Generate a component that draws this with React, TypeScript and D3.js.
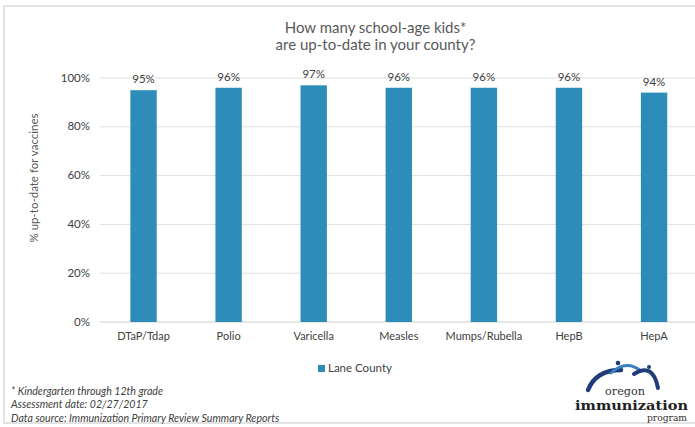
import React from "react";
import * as d3 from "d3";

const categories = ["DTaP/Tdap", "Polio", "Varicella", "Measles", "Mumps/Rubella", "HepB", "HepA"];
const values = [95, 96, 97, 96, 96, 96, 94];
const yTicks = [0, 20, 40, 60, 80, 100];
const seriesName = "Lane County";
const titleLines = ["How many school-age kids*", "are up-to-date in your county?"];
const yTitle = "% up-to-date for vaccines";
const footnotes = [
  "* Kindergarten through 12th grade",
  "Assessment date: 02/27/2017",
  "Data source: Immunization Primary Review Summary Reports",
];

const W = 695;
const H = 427;
const BAR = "#2E8DB8";
const NAVY = "#1f3c78";
const FONT = "Lato, 'Open Sans', sans-serif";
const SERIF = "'DejaVu Serif', 'Liberation Serif', serif";

export default function App() {
  const x = d3.scaleBand<string>().domain(categories).range([101, 696.6]).paddingInner(0.69).paddingOuter(0.345);
  const y = d3.scaleLinear().domain([0, 100]).range([322, 78]);

  return (
    <svg width={W} height={H} style={{ position: "absolute", left: 0, top: 0 }} fontFamily={FONT}>
      <rect x={0} y={0} width={W} height={H} fill="#fff" />
      <rect x={4} y={6} width={W + 10} height={417} fill="none" stroke="#e3e3e3" strokeWidth={2} />
      {titleLines.map((t, i) => (
        <text key={i} x={375.5} y={33 + i * 17} textAnchor="middle" fontSize={15} fill="#595959">
          {t}
        </text>
      ))}
      {yTicks.map((t) => (
        <g key={t}>
          <line x1={100} x2={W} y1={y(t)} y2={y(t)} stroke={t === 0 ? "#d0d0d0" : "#e0e0e0"} strokeWidth={1} />
          <text x={90} y={y(t) + 3.5} textAnchor="end" fontSize={11.5} fill="#404040">
            {t}%
          </text>
        </g>
      ))}
      <text transform={`translate(38,178) rotate(-90)`} textAnchor="middle" fontSize={11.5} fill="#595959">
        {yTitle}
      </text>
      {categories.map((c, i) => (
        <g key={c}>
          <rect x={x(c)} y={y(values[i])} width={x.bandwidth()} height={y(0) - y(values[i])} fill={BAR} />
          <text
            x={(x(c) as number) + x.bandwidth() / 2}
            y={y(values[i]) - 7}
            textAnchor="middle"
            fontSize={11.5}
            fill="#404040"
          >
            {values[i]}%
          </text>
          <text x={(x(c) as number) + x.bandwidth() / 2} y={340} textAnchor="middle" fontSize={11} fill="#404040">
            {c}
          </text>
        </g>
      ))}
      <rect x={318} y={365} width={7} height={7} fill={BAR} />
      <text x={328} y={372} fontSize={11.5} fill="#404040">
        {seriesName}
      </text>
      {footnotes.map((f, i) => (
        <text key={i} x={11} y={395 + i * 13.3} fontSize={10.6} fontStyle="italic" fill="#404040">
          {f}
        </text>
      ))}
      <g>
        <path d="M588,390 Q596,370 621,370" fill="none" stroke={NAVY} strokeWidth={4.5} strokeLinecap="round" />
        <path d="M611,373 Q626,359 641,371" fill="none" stroke="#3a7fc1" strokeWidth={3} strokeLinecap="round" />
        <path d="M634,374 Q653,362 658,388" fill="none" stroke={NAVY} strokeWidth={4} strokeLinecap="round" />
        <circle cx={618} cy={363} r={2.3} fill={NAVY} />
        <circle cx={649} cy={367} r={2} fill={NAVY} />
        <text x={625} y={395} textAnchor="middle" fontFamily={SERIF} fontSize={11.5} fill="#333" textLength={40} lengthAdjust="spacingAndGlyphs">
          oregon
        </text>
        <text
          x={631.5}
          y={410}
          textAnchor="middle"
          fontFamily={SERIF}
          fontWeight="bold"
          fontSize={12.5}
          fill="#222"
          textLength={113}
          lengthAdjust="spacingAndGlyphs"
        >
          immunization
        </text>
        <text x={687} y={421} textAnchor="end" fontFamily={SERIF} fontSize={9.5} fill="#333" textLength={40} lengthAdjust="spacingAndGlyphs">
          program
        </text>
      </g>
    </svg>
  );
}
